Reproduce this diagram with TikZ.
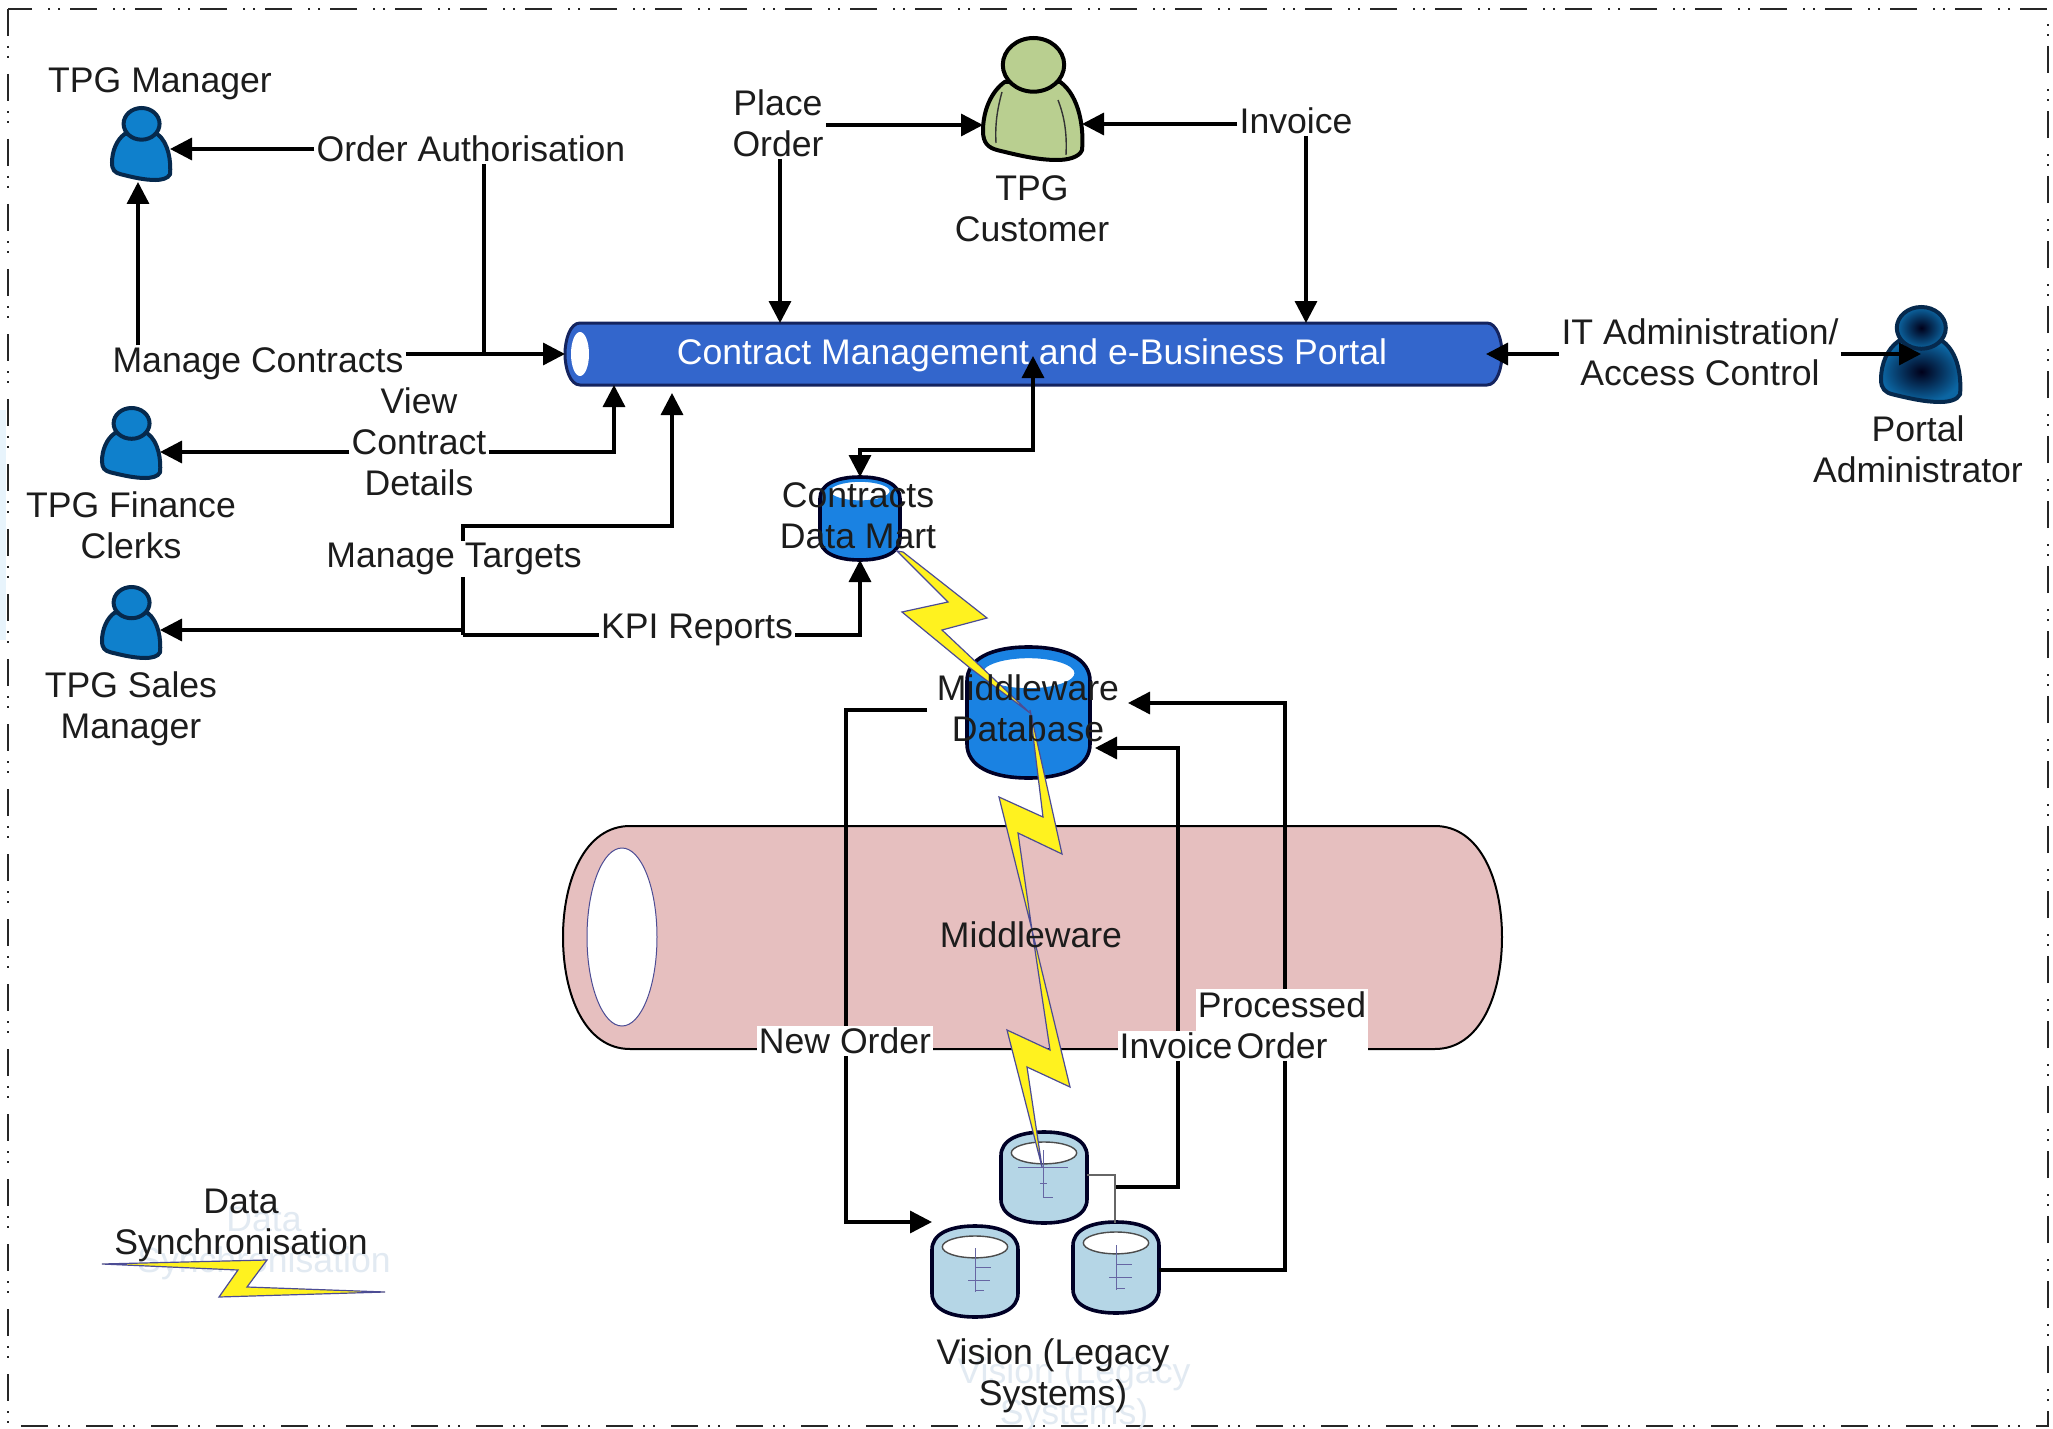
\documentclass[tikz,border=0pt]{standalone}
\usepackage{fontspec}
\setmainfont{Liberation Sans}
\usetikzlibrary{arrows.meta,fit,calc}
\definecolor{ink}{HTML}{1C1C1C}
\definecolor{ghost}{HTML}{E2EAF2}
\definecolor{portalblue}{HTML}{3366CC}
\definecolor{portalline}{HTML}{14245F}
\definecolor{pinktube}{HTML}{E6BFBF}
\definecolor{dbblue}{HTML}{1A82E2}
\definecolor{legacy}{HTML}{B5D6E6}
\definecolor{userblue}{HTML}{0F80CC}
\definecolor{userline}{HTML}{06294D}
\definecolor{custgreen}{HTML}{B9CF90}
\definecolor{bolty}{HTML}{FFF21F}
\definecolor{edgetint}{HTML}{E8F4FC}
\tikzset{
  lbl/.style={text=ink,align=center,inner sep=1pt,font=\fontsize{17.8}{20.5}\selectfont},
  whitelbl/.style={lbl,fill=white},
  ghostlbl/.style={lbl,text=ghost},
  arr/.style={draw=black,line width=1.7pt,-{Triangle[length=11pt,width=11pt]}},
  lnk/.style={draw=black,line width=1.7pt},
  thinlnk/.style={draw=black!60,line width=0.7pt},
  bolt/.style={fill=bolty,draw=black!60!blue!70,line width=0.6pt,line join=miter},
  tick/.style={draw=black!60!blue!60,line width=0.5pt},
  box/.style={inner sep=0pt,outer sep=0pt},
}
% \person{name}{x1}{y1}{x2}{y2}{style}
\newcommand{\person}[6]{%
  \pgfmathsetmacro{\uw}{(#4-#2)*0.5}\pgfmathsetmacro{\uh}{(#3-#5)*0.5}%
  \begin{scope}[shift={(#2,#3)},x=\uw pt,y=\uh pt]
    \path[line width=2pt,draw=userline,fill=userblue,#6] (0.22,0.36) .. controls (0.08,0.44) and (0,0.60) .. (0,0.76)
       .. controls (0,0.86) and (0.05,0.90) .. (0.15,0.92)
       .. controls (0.35,0.96) and (0.55,1) .. (0.75,1)
       .. controls (0.85,1) and (0.97,0.98) .. (1,0.92)
       .. controls (1.02,0.75) and (0.98,0.48) .. (0.78,0.36) -- cycle;
    \path[line width=2pt,draw=userline,fill=userblue,#6] (0.51,0.22) ellipse [x radius=0.31,y radius=0.22];
  \end{scope}%
  \node[box,fit={(#2,#3)(#4,#5)}] (#1) {};%
}
% \cyl{name}{x1}{y1}{x2}{y2}{fill}{rim colour}{inner centre y}
\newcommand{\cyl}[8]{%
  \pgfmathsetmacro{\uw}{(#4-#2)*0.5}\pgfmathsetmacro{\uh}{(#3-#5)*0.5}%
  \begin{scope}[shift={(#2,#3)},x=\uw pt,y=\uh pt]
    \path[draw=black!85!blue,line width=1.8pt,fill=#6] (0,.26) .. controls (0,.09) and (.2,0) .. (.5,0)
       .. controls (.8,0) and (1,.09) .. (1,.26) -- (1,.74)
       .. controls (1,.91) and (.8,1) .. (.5,1) .. controls (.2,1) and (0,.91) .. (0,.74) -- cycle;
    \path[draw=#7,line width=0.7pt,fill=white] (.5,#8) ellipse [x radius=.38,y radius=.12];
  \end{scope}%
  \node[box,fit={(#2,#3)(#4,#5)}] (#1) {};%
}
\begin{document}
\begin{tikzpicture}[x=0.5pt,y=-0.5pt]
\useasboundingbox (0,0) rectangle (2053,1429);
\fill[white] (0,0) rectangle (2053,1429);
\fill[edgetint] (0,410) rectangle (6,640);
% frame
\draw[black!85,line width=1.2pt,dash pattern=on 13.5pt off 5pt on 1pt off 4pt on 1pt off 8pt] (8,9) rectangle (2048,1426);
% ghost texts
\node[ghostlbl] (gv) at (1074,1395) {Vision (Legacy\\Systems)};
\node[ghostlbl] (gd) at (264,1243) {Data\\Synchronisation};
% tubes
\path[fill=pinktube,draw=black,line width=1pt] (630,826) -- (1435,826) .. controls (1480,826) and (1502,880) .. (1502,937)
  .. controls (1502,995) and (1480,1049) .. (1435,1049) -- (630,1049)
  .. controls (585,1049) and (563,995) .. (563,937) .. controls (563,880) and (585,826) .. (630,826) -- cycle;
\path[fill=white,draw=blue!40!black!70,line width=0.5pt] (622,937) ellipse [x radius=35,y radius=89];
\node[box,fit={(563,826)(1502,1049)}] (mw) {};
\path[fill=portalblue,draw=portalline,line width=1.5pt] (580,323) -- (1487,323) .. controls (1497,323) and (1502,340) .. (1502,354)
  .. controls (1502,368) and (1497,385) .. (1487,385) -- (580,385)
  .. controls (570,385) and (565,368) .. (565,354) .. controls (565,340) and (570,323) .. (580,323) -- cycle;
\path[fill=white] (580,354) ellipse [x radius=9,y radius=22];
\node[box,fit={(565,323)(1502,385)}] (portal) {};
\node[lbl,text=white] (portaltext) at (1032,355) {Contract Management and e-Business Portal};
% people
\person{mgr}{112}{108}{170}{180}{}
\person{fin}{102}{408}{160}{478}{}
\person{sal}{102}{587}{160}{658}{}
\person{cust}{983}{38}{1082}{160}{fill=custgreen,draw=black}
\draw[black!80,line width=0.7pt] (1002,92) .. controls (997,110) and (995,125) .. (996,143);
\draw[black!80,line width=0.7pt] (1058,100) .. controls (1065,118) and (1067,135) .. (1066,155);
\person{admin}{1881}{307}{1960}{402}{inner color=black!90!blue,outer color=userblue!80!black,shade,draw=userline}
% cylinders
\cyl{mart}{820}{477}{900}{560}{dbblue}{dbblue}{.17}
\cyl{db}{967}{647}{1090}{778}{dbblue}{dbblue}{.2}
\cyl{lega}{1001}{1132}{1087}{1223}{legacy}{black!70}{.23}
\cyl{legb}{932}{1226}{1018}{1317}{legacy}{black!70}{.23}
\cyl{legc}{1073}{1222}{1159}{1313}{legacy}{black!70}{.23}
% gauge ticks
\draw[tick] (1043,1150) -- (1043,1198) (1018,1167) -- (1068,1167) (1040,1183) -- (1047,1183) (1043,1197) -- (1053,1197);
\draw[tick] (975,1248) -- (975,1292) (975,1267) -- (991,1267) (968,1280) -- (990,1280) (975,1290) -- (984,1290);
\draw[tick] (1116,1245) -- (1116,1290) (1116,1264) -- (1132,1264) (1109,1277) -- (1132,1277) (1116,1288) -- (1125,1288);
% text nodes
\node[lbl] (tmgr) at (160,84) {TPG Manager};
\node[lbl] (tfin) at (131,525) {TPG Finance\\Clerks};
\node[lbl] (tsal) at (131,709) {TPG Sales\\Manager};
\node[lbl] (tcust) at (1032,209) {TPG\\Customer};
\node[lbl] (tadmin) at (1918,449) {Portal\\Administrator};
\node[lbl] (oa) at (471,149) {Order Authorisation};
\node[lbl] (mc) at (258,364) {Manage Contracts};
\node[lbl] (vc) at (419,442) {View\\Contract\\Details};
\node[lbl] (mt) at (454,559) {Manage Targets};
\node[lbl] (kpi) at (697,630) {KPI Reports};
\node[lbl] (po) at (778,123) {Place\\Order};
\node[lbl] (inv) at (1296,121) {Invoice};
\node[lbl] (it) at (1700,352) {IT Administration/\\Access Control};
% junction coordinates
\coordinate (joa) at (484,354);
\coordinate (jmt) at (463,526);
\coordinate (jkp) at (463,635);
\coordinate (jsa) at (463,630);
\coordinate (xvc) at (614,452);
\coordinate (xmt) at (672,393);
\coordinate (xpo) at (780,125);
\coordinate (xin) at (1306,124);
\coordinate (xtop) at (1033,356);
\coordinate (xmid) at (1033,450);
\coordinate (nostart) at (927,710);
\coordinate (nocorner) at (846,710);
\coordinate (ivcorner) at (1178,748);
\coordinate (prcorner) at (1285,703);
\coordinate (ivlow) at (1178,1187);
\coordinate (prlow) at (1285,1270);
\coordinate (nolow) at (846,1222);
\coordinate (conn) at (1115,1187);
\coordinate (tipdb) at (1128,703);
\coordinate (tipdb2) at (1095,748);
% connectors
\draw[arr] (oa.west) -- (oa.west -| mgr.east);
\draw[arr] (138,0 |- mc.north) -- (138,182);
\draw[arr] (mc.east |- portal.west) -- (portal.west);
\draw[lnk] (joa |- oa.south) -- (joa);
\draw[arr] (vc.west |- xvc) -- (fin.east |- xvc);
\draw[arr] (vc.east |- xvc) -- (xvc) -- (xvc |- portal.south);
\draw[arr] (jmt |- mt.north) -- (jmt) -- (jmt -| xmt) -- (xmt);
\draw[lnk] (jkp |- mt.south) -- (jkp);
\draw[arr] (jsa) -- (jsa -| sal.east);
\draw[lnk] (jkp) -- (jkp -| kpi.west);
\draw[arr] (jkp -| kpi.east) -- (jkp -| mart.south) -- (mart.south);
\draw[arr] (xpo -| po.east) -- (xpo -| cust.west);
\draw[arr] (xin -| inv.west) -- (xin -| cust.east);
\draw[arr] (xpo |- po.south) -- (xpo |- portal.north);
\draw[arr] (xin |- inv.south) -- (xin |- portal.north);
\draw[arr] (it.west |- portal.east) -- (1486,354);
\draw[arr] (it.east |- portal.east) -- (1921,354);
\draw[draw=black,line width=1.7pt,{Triangle[length=11pt,width=11pt]}-{Triangle[length=11pt,width=11pt]}] (xtop) -- (xmid) -- (xmid -| mart.north) -- (mart.north);
% order paths through the middleware
\node[whitelbl] (no) at (845,1041) {New Order};
\node[whitelbl,minimum width=83pt] (pr) at (1282,1025) {Processed\\Order};
\node[whitelbl] (ivl) at (1176,1046) {Invoice};
\draw[lnk] (nostart) -- (nocorner) -- (nocorner |- no.north);
\draw[arr] (nocorner |- no.south) -- (nolow) -- (nolow -| legb.west);
\draw[arr] (ivcorner |- ivl.north) -- (ivcorner) -- (tipdb2);
\draw[lnk] (ivcorner |- ivl.south) -- (ivlow) -- (conn);
\draw[arr] (prcorner |- pr.north) -- (prcorner) -- (tipdb);
\draw[lnk] (prcorner |- pr.south) -- (prlow) -- (prlow -| legc.east);
\draw[thinlnk] (lega.east |- 1088,1175) -- (1115,1175) -- (1115,1223);
% lightning
\path[bolt] (897,551) -- (903,552) -- (987,618) -- (942,630) -- (1030,713) -- (970,668) -- (902,612) -- (948,602) -- cycle;
\path[bolt] (1030,710) -- (1062,854) -- (1018,833) -- (1032,930) -- (999,797) -- (1043,817) -- cycle;
\path[bolt] (1032,930) -- (1070,1087) -- (1027,1067) -- (1042,1167) -- (1007,1030) -- (1050,1050) -- cycle;
\path[bolt] (102,1264) -- (267,1260) -- (247,1287) -- (385,1292) -- (219,1297) -- (238,1270) -- cycle;
% labels over shapes
\node[lbl] (tmart) at (858,516) {Contracts\\Data Mart};
\node[lbl] (tdb) at (1028,708) {Middleware\\Database};
\node[lbl] (tmw) at (1031,935) {Middleware};
\node[lbl] (tsync) at (241,1225) {Data\\Synchronisation};
\node[lbl] (tleg) at (1053,1376) {Vision (Legacy\\Systems)};
\end{tikzpicture}
\end{document}
